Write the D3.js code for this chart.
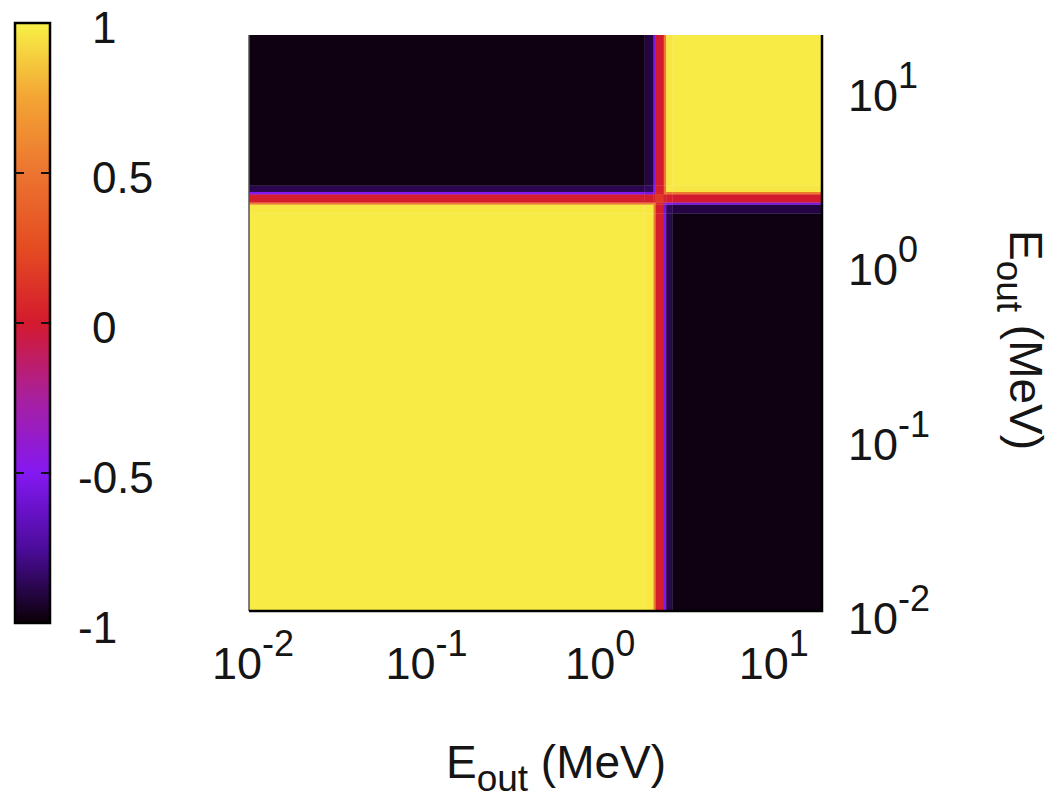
<!DOCTYPE html>
<html>
<head>
<meta charset="utf-8">
<script src="https://cdn.jsdelivr.net/npm/d3@7"></script>
<style>
body { margin: 0; background: #fff; }
text { font-family: "Liberation Sans", Arial, sans-serif; fill: #151515; }
</style>
</head>
<body>
<div id="chart-area"></div>
<script>
// energy bin edges (MeV), shared by both axes
const binEdges = [0.01, 1.9, 2.14, 2.2, 2.45, 2.53, 2.75, 20]
// correlation matrix: rows = E_out bins on y (low -> high), cols = E_out bins on x
const corr = [
	[ 0.98,  0.97,  0.55, 0.02, -0.50, -0.88, -0.98],
	[ 0.97,  0.97,  0.55, 0.02, -0.55, -0.85, -0.90],
	[ 0.55,  0.55,  0.55, 0.05, -0.30, -0.50, -0.55],
	[ 0.02,  0.02,  0.05, 0.15,  0.05,  0.02,  0.00],
	[-0.50, -0.55, -0.30, 0.05,  0.50,  0.50,  0.52],
	[-0.88, -0.85, -0.50, 0.02,  0.50,  0.97,  0.96],
	[-0.98, -0.90, -0.55, 0.00,  0.52,  0.96,  0.98]
]
// axis ticks
const axisTicks = [0.01, 0.1, 1, 10]
const axisTickExp = ["-2", "-1", "0", "1"]
const cbTicks = [1, 0.5, 0, -0.5, -1]
const cbInnerTicks = [0.5, 0, -0.5]

// palette (gnuplot-like black-blue-red-yellow)
const paletteStops = [-1, -0.75, -0.5, -0.25, 0, 0.25, 0.5, 0.75, 1]
const paletteColors = ["#0a0006", "#4c0c9c", "#8418f2", "#a8209e", "#d41a2e",
	"#e44c22", "#ec7430", "#f3a434", "#f8f146"]

const W = 1052, H = 798
const PLOT = { LEFT: 249, RIGHT: 822, TOP: 35, BOTTOM: 611 }
const CB = { LEFT: 15, RIGHT: 50, TOP: 23, BOTTOM: 623 }

const svg = d3.select("#chart-area").append("svg")
	.attr("width", W)
	.attr("height", H)

const color = d3.scaleLinear()
	.domain(paletteStops)
	.range(paletteColors)
	.clamp(true)

// scales
const x = d3.scaleLog().domain([0.01, 20]).range([PLOT.LEFT, PLOT.RIGHT])
const y = d3.scaleLog().domain([0.01, 20]).range([PLOT.BOTTOM, PLOT.TOP])
const cbY = d3.scaleLinear().domain([-1, 1]).range([CB.BOTTOM, CB.TOP])

// heatmap cells
const cells = []
corr.forEach((row, i) => row.forEach((v, j) => cells.push({ i, j, v })))

svg.append("g")
	.selectAll("rect")
	.data(cells)
	.join("rect")
	.attr("x", d => x(binEdges[d.j]))
	.attr("width", d => x(binEdges[d.j + 1]) - x(binEdges[d.j]) + 0.3)
	.attr("y", d => y(binEdges[d.i + 1]))
	.attr("height", d => y(binEdges[d.i]) - y(binEdges[d.i + 1]) + 0.3)
	.attr("fill", d => color(d.v))

// border (left grey, bottom/right black)
const border = svg.append("g").attr("fill", "none")
border.append("line")
	.attr("x1", PLOT.LEFT).attr("x2", PLOT.LEFT)
	.attr("y1", PLOT.TOP).attr("y2", PLOT.BOTTOM)
	.attr("stroke", "#555").attr("stroke-width", 1.5)
border.append("path")
	.attr("d", `M${PLOT.LEFT},${PLOT.BOTTOM}H${PLOT.RIGHT}V${PLOT.TOP}`)
	.attr("stroke", "#000").attr("stroke-width", 2.5)

// x tick labels
const xLab = svg.append("g").selectAll("text")
	.data(axisTicks)
	.join("text")
	.attr("x", d => x(d) + 4)
	.attr("y", PLOT.BOTTOM + 68)
	.attr("text-anchor", "middle")
	.style("font-size", "45px")
xLab.append("tspan").text("10")
xLab.append("tspan")
	.attr("dy", -23)
	.style("font-size", "36px")
	.text((d, i) => axisTickExp[i])

// y tick labels (right side)
const yLab = svg.append("g").selectAll("text")
	.data(axisTicks)
	.join("text")
	.attr("x", PLOT.RIGHT + 26)
	.attr("y", d => y(d) + 23)
	.style("font-size", "45px")
yLab.append("tspan").text("10")
yLab.append("tspan")
	.attr("dy", -23)
	.style("font-size", "36px")
	.text((d, i) => axisTickExp[i])

// axis titles
const xTitle = svg.append("text")
	.attr("x", 556)
	.attr("y", 778)
	.attr("text-anchor", "middle")
	.style("font-size", "46px")
xTitle.append("tspan").text("E")
xTitle.append("tspan").attr("dy", 13).style("font-size", "37px").text("out")
xTitle.append("tspan").attr("dy", -13).text(" (MeV)")

const yTitle = svg.append("text")
	.attr("transform", "translate(1010, 340) rotate(90)")
	.attr("text-anchor", "middle")
	.style("font-size", "46px")
yTitle.append("tspan").text("E")
yTitle.append("tspan").attr("dy", 13).style("font-size", "37px").text("out")
yTitle.append("tspan").attr("dy", -13).text(" (MeV)")

// colour box
const grad = svg.append("defs").append("linearGradient")
	.attr("id", "cbgrad")
	.attr("x1", 0).attr("x2", 0).attr("y1", 1).attr("y2", 0)
grad.selectAll("stop")
	.data(paletteStops)
	.join("stop")
	.attr("offset", d => (d + 1) / 2)
	.attr("stop-color", d => color(d))

svg.append("rect")
	.attr("x", CB.LEFT)
	.attr("y", CB.TOP)
	.attr("width", CB.RIGHT - CB.LEFT)
	.attr("height", CB.BOTTOM - CB.TOP)
	.attr("fill", "url(#cbgrad)")
	.attr("stroke", "#000")
	.attr("stroke-width", 2.5)

const cbTickG = svg.append("g").attr("stroke", "#111").attr("stroke-width", 2)
cbTickG.selectAll(".tl")
	.data(cbInnerTicks)
	.join("line")
	.attr("x1", CB.LEFT).attr("x2", CB.LEFT + 9)
	.attr("y1", d => cbY(d)).attr("y2", d => cbY(d))
cbTickG.selectAll(".tr")
	.data(cbInnerTicks)
	.join("line")
	.attr("x1", CB.RIGHT - 9).attr("x2", CB.RIGHT)
	.attr("y1", d => cbY(d)).attr("y2", d => cbY(d))

svg.append("g").selectAll("text")
	.data(cbTicks)
	.join("text")
	.attr("x", d => d < 0 ? 78 : 92)
	.attr("y", d => cbY(d) + 20)
	.style("font-size", "44px")
	.text(d => d3.format("")(d).replace("−", "-"))
</script>
</body>
</html>
